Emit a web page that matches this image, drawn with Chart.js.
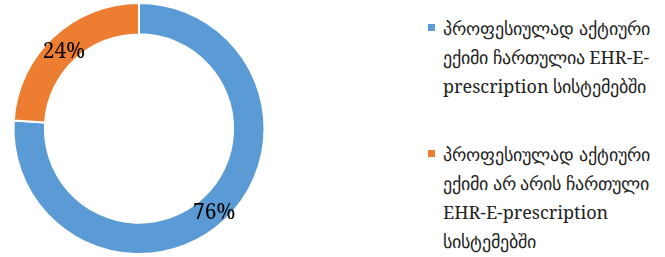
<!DOCTYPE html>
<html>
<head>
    <title>EHR-E-prescription</title>
    <script src="https://cdn.jsdelivr.net/npm/chart.js"></script>
    <style>
        body { margin: 0; background: #fff; font-family: "Noto Serif", serif; }
        #chartBox { position: absolute; left: 0; top: 0; width: 278px; height: 257px; }
        .legendItem { position: absolute; left: 427px; font-size: 18px; line-height: 29px; color: #222; }
        .legendItem .box { position: absolute; left: 1px; top: 10px; width: 7px; height: 7px; }
        .legendItem .txt { margin-left: 16px; white-space: nowrap; }
    </style>
</head>
<body>
    <div id="chartBox"><canvas id="donut"></canvas></div>
    <div id="legend"></div>
    <script>
        const labels = [
            ['პროფესიულად აქტიური', 'ექიმი ჩართულია EHR-E-', 'prescription სისტემებში'],
            ['პროფესიულად აქტიური', 'ექიმი არ არის ჩართული', 'EHR-E-prescription', 'სისტემებში']
        ];
        const values = [76, 24];
        const colors = ['#5B9BD5', '#ED7D31'];
        const legendTops = [14, 140];

        // html legend, one block per slice
        const legend = document.getElementById('legend');
        labels.forEach((lines, i) => {
            const item = document.createElement('div');
            item.className = 'legendItem';
            item.style.top = legendTops[i] + 'px';
            item.innerHTML = '<span class="box" style="background:' + colors[i] + '"></span>' +
                '<div class="txt">' + lines.join('<br>') + '</div>';
            legend.appendChild(item);
        });

        // percent labels in the middle of each arc
        const pctLabels = {
            id: 'pctLabels',
            afterDatasetsDraw(chart) {
                const ctx = chart.ctx;
                const meta = chart.getDatasetMeta(0);
                ctx.save();
                ctx.font = '21px "Noto Serif", serif';
                ctx.fillStyle = '#000';
                ctx.textAlign = 'center';
                ctx.textBaseline = 'middle';
                meta.data.forEach((arc, i) => {
                    const p = arc.tooltipPosition();
                    ctx.fillText(values[i] + '%', p.x, p.y + 4);
                });
                ctx.restore();
            }
        };

        new Chart(document.getElementById('donut'), {
            type: 'doughnut',
            data: {
                labels: labels.map(l => l.join(' ')),
                datasets: [{
                    data: values,
                    backgroundColor: colors,
                    borderColor: '#fff',
                    borderWidth: 2
                }]
            },
            options: {
                responsive: true,
                maintainAspectRatio: false,
                animation: false,
                cutout: '75%',
                layout: { padding: 2 },
                plugins: {
                    legend: { display: false },
                    tooltip: { enabled: false }
                }
            },
            plugins: [pctLabels]
        });
    </script>
</body>
</html>
